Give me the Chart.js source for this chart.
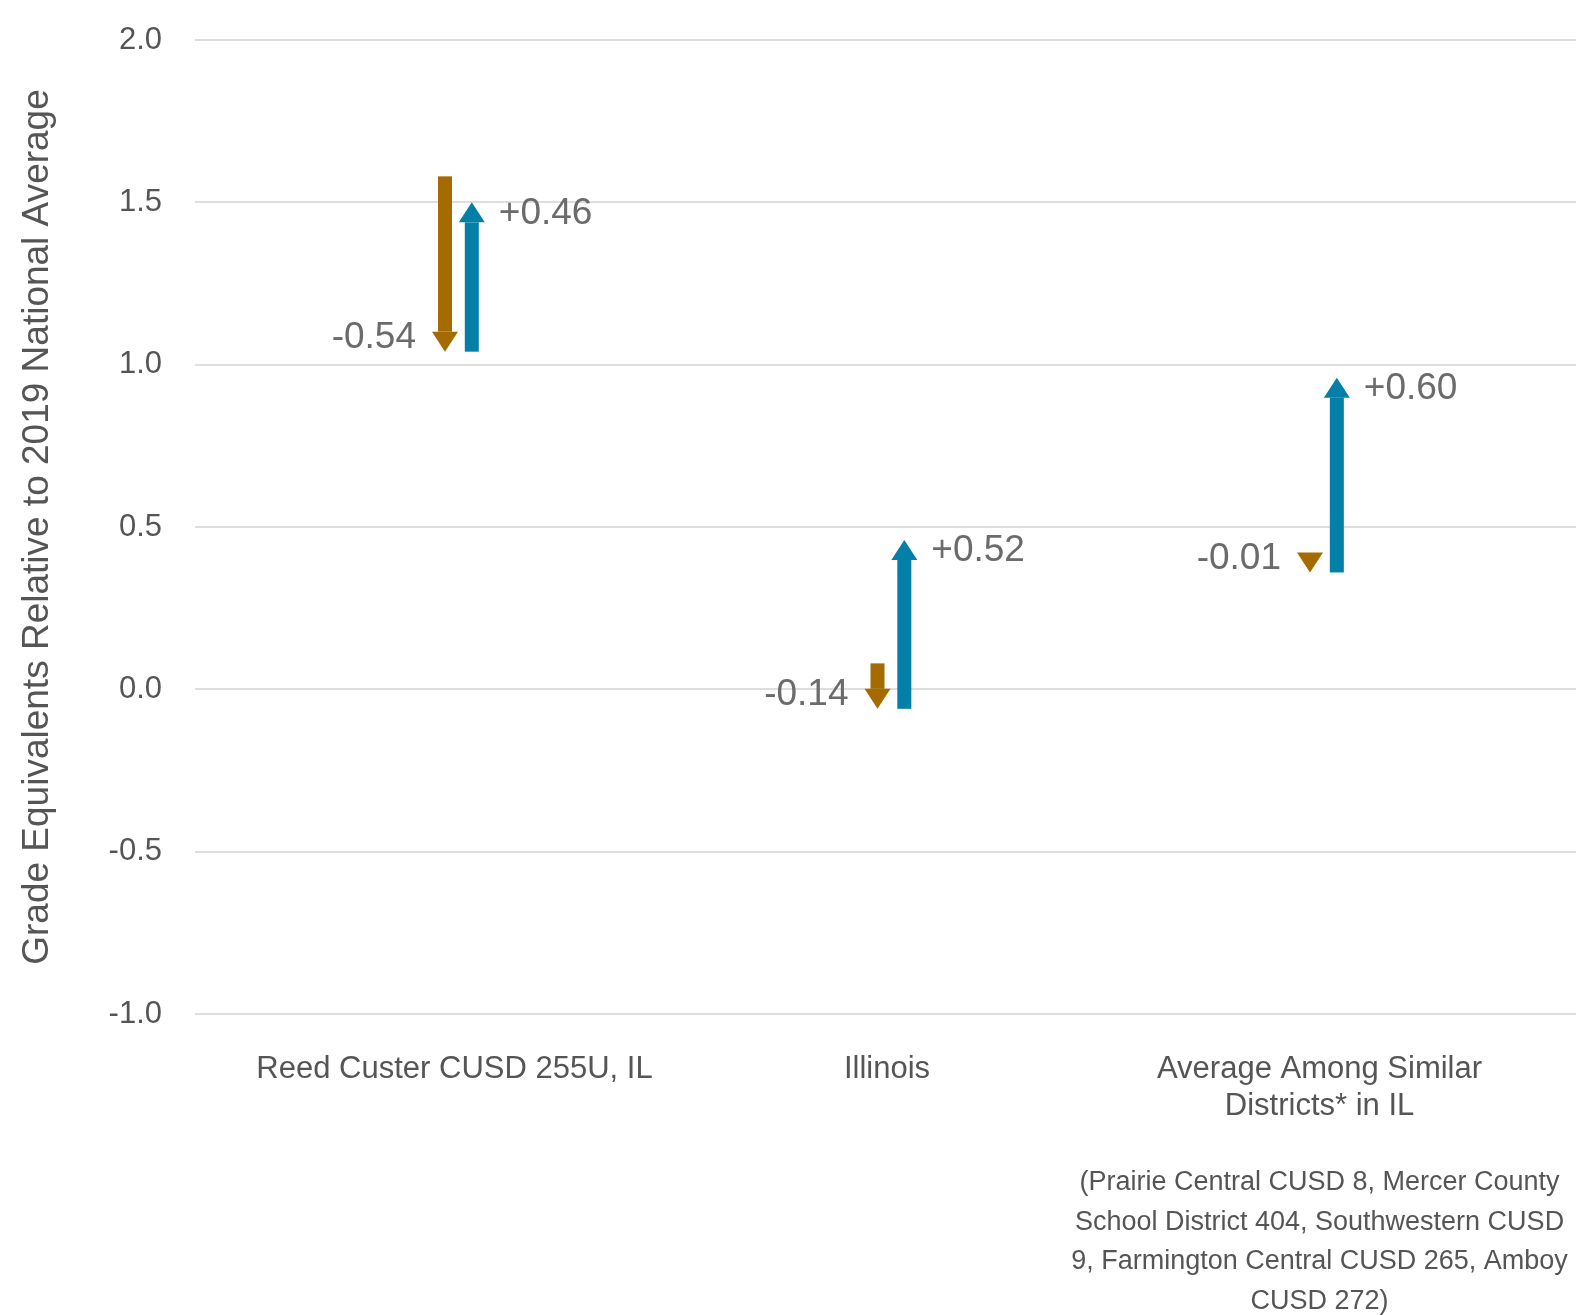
<!DOCTYPE html>
<html>
<head>
<meta charset="utf-8">
<script src="https://cdn.jsdelivr.net/npm/chart.js@4.4.1/dist/chart.umd.min.js"></script>
<style>
  html, body { margin: 0; padding: 0; background: #fff; overflow: hidden; }
  #wrap { width: 1576px; height: 1315px; }
</style>
</head>
<body>
<div id="wrap"><canvas id="grafico"></canvas></div>
<script>
// categorias e valores
const categorias = ["Reed Custer CUSD 255U, IL", "Illinois", ["Average Among Similar", "Districts* in IL"]];
const valores2019 = [1.58, 0.08, 0.37];
const valores2022 = [1.04, -0.06, 0.36];
const valores2023 = [1.50, 0.46, 0.96];
const ticksY = [-1.0, -0.5, 0.0, 0.5, 1.0, 1.5, 2.0];
const notaRodape = [
  "(Prairie Central CUSD 8, Mercer County",
  "School District 404, Southwestern CUSD",
  "9, Farmington Central CUSD 265, Amboy",
  "CUSD 272)"
];

const corQueda = "#a56a00";
const corGanho = "#047fa8";
const fonte = "'Liberation Sans', Arial, sans-serif";

const queda = categorias.map((c, i) => ({ x: i - 0.022, y: [valores2019[i], valores2022[i]] }));
const ganho = categorias.map((c, i) => ({ x: i + 0.04, y: [valores2022[i], valores2023[i]] }));

// desenha as setas por cima das barras (invisíveis) usando as escalas do gráfico
const pluginSetas = {
  id: "setas",
  afterDatasetsDraw(chart) {
    const ctx = chart.ctx;
    const y = chart.scales.y;
    chart.data.datasets.forEach((ds, d) => {
      const meta = chart.getDatasetMeta(d);
      meta.data.forEach((el, i) => {
        const raw = ds.data[i];
        const x = el.x;
        const y0 = y.getPixelForValue(raw.y[0]);
        const y1 = y.getPixelForValue(raw.y[1]);
        const dir = y1 > y0 ? 1 : -1; // 1 = para baixo
        const alturaPonta = 20, larguraPonta = 26, larguraHaste = 14;
        const basePonta = y1 - dir * alturaPonta;
        ctx.save();
        ctx.fillStyle = ds.corSeta;
        if ((basePonta - y0) * dir > 0) {
          ctx.fillRect(x - larguraHaste / 2, Math.min(y0, basePonta), larguraHaste, Math.abs(basePonta - y0));
        }
        ctx.beginPath();
        ctx.moveTo(x - larguraPonta / 2, basePonta);
        ctx.lineTo(x + larguraPonta / 2, basePonta);
        ctx.lineTo(x, y1);
        ctx.closePath();
        ctx.fill();

        const diff = raw.y[1] - raw.y[0];
        const texto = (diff >= 0 ? "+" : "-") + Math.abs(diff).toFixed(2);
        ctx.font = "37px " + fonte;
        ctx.fillStyle = "#6b6b6b";
        ctx.textBaseline = "middle";
        if (dir > 0) {
          ctx.textAlign = "right";
          ctx.fillText(texto, x - 29, y1 - 14);
        } else {
          ctx.textAlign = "left";
          ctx.fillText(texto, x + 27, y1 + 11);
        }
        ctx.restore();
      });
    });
  }
};

const pluginRodape = {
  id: "rodape",
  afterDraw(chart) {
    const ctx = chart.ctx;
    const cx = chart.scales.x.getPixelForValue(2);
    ctx.save();
    ctx.font = "27px " + fonte;
    ctx.fillStyle = "#555";
    ctx.textAlign = "center";
    ctx.textBaseline = "middle";
    notaRodape.forEach((linha, i) => {
      ctx.fillText(linha, cx, 1183 + i * 39.5);
    });
    ctx.restore();
  }
};

const ctx = document.getElementById("grafico").getContext("2d");
const grafico = new Chart(ctx, {
  type: "bar",
  data: {
    datasets: [
      { label: "2019-2022", data: queda, corSeta: corQueda, backgroundColor: "rgba(0,0,0,0)", barThickness: 14, grouped: false },
      { label: "2022-2023", data: ganho, corSeta: corGanho, backgroundColor: "rgba(0,0,0,0)", barThickness: 14, grouped: false }
    ]
  },
  options: {
    responsive: true,
    maintainAspectRatio: false,
    animation: false,
    layout: { padding: { top: 40, right: 0, left: 0, bottom: 0 } },
    plugins: {
      legend: { display: false },
      tooltip: { enabled: false }
    },
    scales: {
      x: {
        type: "linear",
        offset: false,
        min: -0.6,
        max: 2.593,
        afterBuildTicks(axis) {
          axis.ticks = categorias.map((c, i) => ({ value: i }));
        },
        afterFit(axis) { axis.height = 301; },
        ticks: {
          autoSkip: false,
          maxRotation: 0,
          padding: 29,
          color: "#555",
          font: { family: fonte, size: 31, lineHeight: 1.2 },
          callback: (v) => categorias[v]
        },
        grid: { display: false },
        border: { display: false }
      },
      y: {
        min: -1,
        max: 2,
        afterBuildTicks(axis) {
          axis.ticks = ticksY.map(v => ({ value: v }));
        },
        afterFit(axis) {
          axis.width = 195;
          axis.paddingTop = 0;
          axis.paddingBottom = 0;
        },
        ticks: {
          padding: 33,
          color: "#555",
          font: { family: fonte, size: 31 },
          callback: (v) => v.toFixed(1)
        },
        grid: { color: "#dedede", lineWidth: 2, drawTicks: false },
        border: { display: false },
        title: {
          display: true,
          text: "Grade Equivalents Relative to 2019 National Average",
          color: "#555",
          font: { family: fonte, size: 37 },
          padding: { top: 16, bottom: 0 }
        }
      }
    }
  },
  plugins: [pluginSetas, pluginRodape]
});
</script>
</body>
</html>
